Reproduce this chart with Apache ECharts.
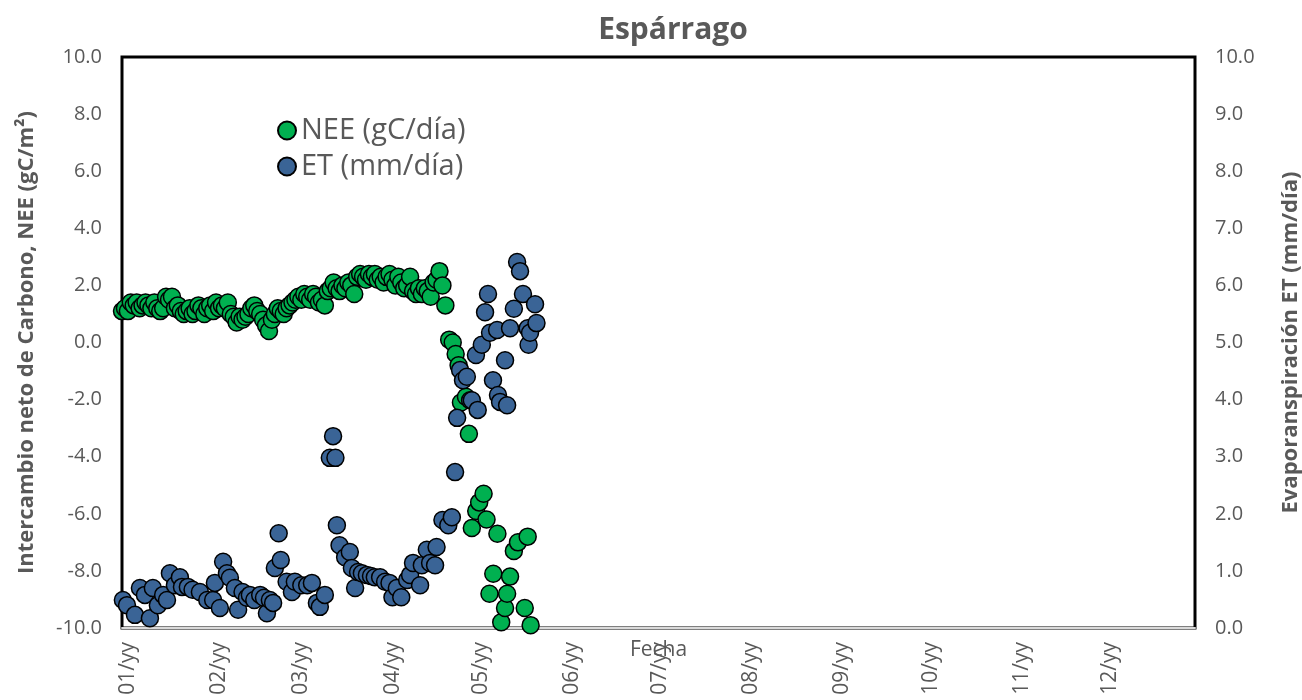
<!DOCTYPE html>
<html style="height: 100%">
<head>
<meta charset="utf-8">
</head>
<body style="height: 100%; margin: 0">
<div id="container" style="width: 1302px; height: 700px"></div>
<script type="text/javascript" src="https://cdn.jsdelivr.net/npm/echarts@6/dist/echarts.min.js"></script>
<script type="text/javascript">
// day of year -> value
var neePoints = [
    [0,1.1],[1,1.2],[2,1.1],[3,1.4],[4,1.3],[5,1.4],[6,1.2],[7,1.3],[8,1.4],[9,1.3],
    [10,1.2],[11,1.4],[12,1.2],[13,1.1],[14,1.2],[15,1.6],[16,1.5],[17,1.6],[18,1.2],[19,1.3],
    [20,1.1],[21,1.0],[22,1.1],[23,1.2],[24,1.0],[25,1.1],[26,1.3],[27,1.2],[28,1.0],[29,1.2],
    [30,1.3],[31,1.1],[32,1.4],[33,1.2],[34,1.3],[35,1.2],[36,1.4],[37,1.0],[38,0.9],[39,0.7],
    [40,0.9],[41,0.8],[42,0.9],[43,1.0],[44,1.2],[45,1.3],[46,1.1],[47,1.0],[48,0.8],[49,0.6],
    [50,0.4],[51,0.8],[52,1.0],[53,1.2],[54,1.1],[55,1.0],[56,1.2],[57,1.3],[58,1.4],[59,1.5],
    [60,1.6],[61,1.5],[62,1.7],[63,1.6],[64,1.5],[65,1.7],[66,1.6],[67,1.4],[68,1.5],[69,1.3],
    [70,1.8],[71,1.9],[72,2.1],[73,1.9],[74,1.8],[75,2.0],[76,1.9],[77,2.1],[78,2.0],[79,1.7],
    [80,2.3],[81,2.4],[82,2.3],[83,2.2],[84,2.4],[85,2.3],[86,2.4],[87,2.2],[88,2.3],[89,2.1],
    [90,2.3],[91,2.4],[92,2.2],[93,2.0],[94,2.3],[95,2.1],[96,1.9],[97,2.0],[98,2.3],[99,1.8],
    [100,1.7],[101,1.9],[102,1.7],[103,1.9],[104,1.8],[105,1.6],[106,2.1],[107,2.2],[108,2.5],[109,2.0],
    [110,1.3],[111.3,0.1],[112.5,0.0],[113.5,-0.4],[114.5,-0.8],[115.3,-2.1],[117,-1.9],[118,-3.2],
    [119,-6.5],[120.5,-5.9],[121.5,-5.6],[123,-5.3],[124,-6.2],[125,-8.8],[126.3,-8.1],[127.7,-6.7],
    [129,-9.8],[130.3,-9.3],[131,-8.8],[132,-8.2],[133.3,-7.3],[134.7,-7.0],[137,-9.3],[138,-6.8],[139,-9.9]
];

var etPoints = [
    [0.3,0.49],[1.7,0.40],[4.4,0.23],[6.1,0.70],[7.8,0.58],[9.5,0.17],[10.5,0.70],[12.2,0.40],[14,0.58],
    [15.3,0.49],[16.3,0.96],[18,0.75],[19.7,0.89],[20.4,0.72],[22.4,0.72],[24,0.67],[26.5,0.63],[29,0.49],
    [31,0.49],[31.6,0.79],[33.3,0.35],[34.4,1.16],[35.7,0.96],[36.7,0.88],[38.4,0.70],[39.5,0.32],[41,0.63],
    [42.5,0.53],[43.5,0.58],[45,0.49],[47,0.58],[48.3,0.53],[49.3,0.26],[50.3,0.49],[51.4,0.44],[52,1.05],
    [53.3,1.66],[54,1.19],[56,0.81],[57.8,0.63],[58.8,0.81],[61,0.75],[63,0.75],[64.6,0.79],[66.3,0.44],
    [67.3,0.37],[69,0.58],[70.7,2.98],[71.8,3.36],[72.6,2.98],[73.1,1.80],[74,1.45],[75.9,1.24],[77.5,1.33],
    [78.2,1.05],[79.3,0.70],[80.3,0.98],[81.6,0.96],[83.3,0.93],[84.7,0.91],[86,0.89],[87.8,0.89],[89.5,0.81],
    [91,0.79],[92,0.54],[93.5,0.70],[95,0.54],[97,0.84],[98,0.93],[99,1.14],[101.4,0.75],[102,1.10],
    [103.7,1.37],[104.8,1.14],[106.5,1.10],[107,1.42],[109,1.89],[111,1.80],[112.2,1.94],[113.3,2.73],
    [114,3.68],[115,4.52],[116,4.34],[117.3,4.40],[118.4,3.99],[119,3.99],[120.4,4.78],[121,3.82],
    [122.4,4.96],[123.5,5.53],[124.5,5.85],[125.2,5.17],[126.2,4.34],[127.6,5.22],[127.9,4.08],[128.6,3.96],
    [130.3,4.69],[131,3.90],[132,5.25],[133.3,5.59],[134.4,6.41],[135.4,6.25],[136.4,5.85],[138,5.25],
    [138.3,4.96],[138.8,5.17],[140.5,5.67],[141,5.34]
];

var monthStarts = [0, 31, 59, 90, 120, 151, 181, 212, 243, 273, 304, 334];
var monthLabels = ['01/yy', '02/yy', '03/yy', '04/yy', '05/yy', '06/yy',
                   '07/yy', '08/yy', '09/yy', '10/yy', '11/yy', '12/yy'];

var textColor = '#595959';
var font = 'Open Sans';

var myChart = echarts.init(document.getElementById('container'));

var option = {
    animation: false,
    textStyle: { fontFamily: font },
    title: {
        text: 'Espárrago',
        left: 668,
        textAlign: 'center',
        top: 10,
        textStyle: { fontSize: 30, fontWeight: 'bold', color: textColor, fontFamily: font }
    },
    legend: {
        orient: 'vertical',
        left: 272,
        top: 111,
        itemGap: 7,
        itemWidth: 18,
        itemHeight: 18,
        textStyle: { fontSize: 29, color: textColor, fontFamily: font },
        data: ['NEE (gC/día)', 'ET (mm/día)']
    },
    grid: {
        left: 122,
        right: 107,
        top: 57,
        bottom: 72,
        outerBoundsMode: 'none',
        containLabel: false,
        show: true,
        borderColor: '#000',
        borderWidth: 3,
        backgroundColor: '#fff'
    },
    xAxis: {
        type: 'value',
        min: 0,
        max: 365,
        name: 'Fecha',
        nameLocation: 'middle',
        nameGap: 12,
        nameMoveOverlap: false,
        nameTextStyle: { fontSize: 21, color: textColor },
        splitLine: { show: false },
        axisLine: { show: true, onZero: false, lineStyle: { color: '#d9d9d9', width: 2 } },
        axisTick: { show: false },
        axisLabel: {
            customValues: monthStarts,
            rotate: 90,
            margin: 14,
            verticalAlign: 'top',
            lineHeight: 12,
            fontSize: 21,
            color: textColor,
            formatter: function (val) {
                var i = monthStarts.indexOf(val);
                return i >= 0 ? monthLabels[i] : '';
            }
        }
    },
    yAxis: [{
        type: 'value',
        min: -10,
        max: 10,
        interval: 2,
        name: 'Intercambio neto de Carbono, NEE (gC/m²)',
        nameLocation: 'middle',
        nameGap: 84,
        nameTextStyle: { fontSize: 22, fontWeight: 'bold', color: textColor },
        axisLine: { show: false },
        axisTick: { show: false },
        splitLine: { show: false },
        axisLabel: {
            margin: 20,
            fontSize: 20,
            color: textColor,
            formatter: function (v) { return v.toFixed(1); }
        }
    }, {
        type: 'value',
        min: 0,
        max: 10,
        interval: 1,
        name: 'Evaporanspiración ET (mm/día)',
        nameLocation: 'middle',
        nameGap: 85,
        nameRotate: 90,
        nameTextStyle: { fontSize: 22, fontWeight: 'bold', color: textColor },
        axisLine: { show: false },
        axisTick: { show: false },
        splitLine: { show: false },
        axisLabel: {
            margin: 20,
            fontSize: 20,
            color: textColor,
            formatter: function (v) { return v.toFixed(1); }
        }
    }],
    series: [{
        name: 'NEE (gC/día)',
        type: 'scatter',
        yAxisIndex: 0,
        symbol: 'circle',
        symbolSize: 17,
        itemStyle: { color: '#00b050', borderColor: '#000', borderWidth: 1.5, opacity: 1 },
        data: neePoints
    }, {
        name: 'ET (mm/día)',
        type: 'scatter',
        yAxisIndex: 1,
        symbol: 'circle',
        symbolSize: 17,
        itemStyle: { color: '#3a6496', borderColor: '#000', borderWidth: 1.5, opacity: 1 },
        data: etPoints
    }]
};

myChart.setOption(option);
</script>
</body>
</html>
